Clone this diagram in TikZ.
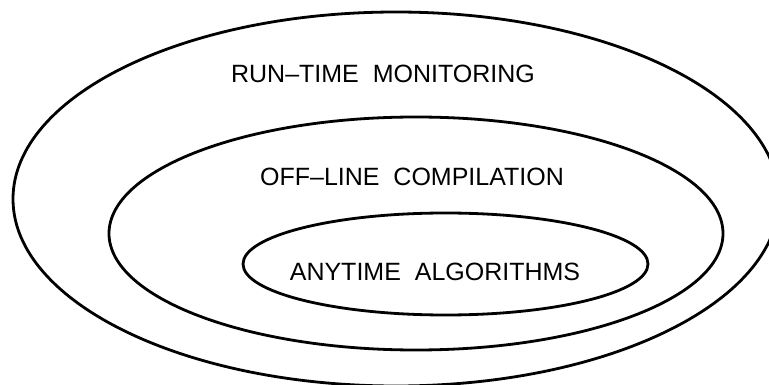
\documentclass[tikz,border=0pt]{standalone}
\usepackage{fontspec}
\setmainfont{Liberation Sans}
\begin{document}
\begin{tikzpicture}[x=1pt,y=-1pt]

      \tikzset{ring/.style={draw, line width=2.8pt},
               tag/.style={inner sep=0pt, font=\fontsize{25}{30}\selectfont}}
      \useasboundingbox (0,0) rectangle (769,385);
%% Ellipses
      	\draw[ring] (396,199) ellipse [x radius=383, y radius=187];
      	\draw[ring] (416,233.5) ellipse [x radius=307, y radius=116.5];
      	\draw[ring] (445.5,264) ellipse [x radius=202.5, y radius=51];
%Labels
		\node[tag] (runtime) at (383,74) {RUN--TIME\ \ MONITORING};
		\node[tag] (offline) at (412,177) {OFF--LINE\ \ COMPILATION};
		\node[tag] (anytime) at (435,272) {ANYTIME\ \ ALGORITHMS};

	\end{tikzpicture}
\end{document}
